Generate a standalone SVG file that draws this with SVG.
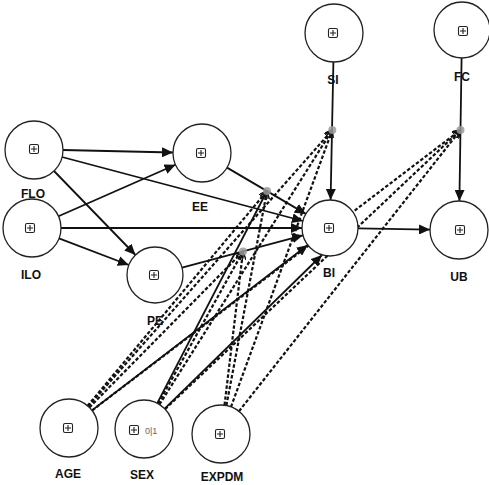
<svg xmlns="http://www.w3.org/2000/svg" width="489" height="485" viewBox="0 0 489 485">
<style>
.c{fill:#fff;stroke:#222;stroke-width:1.3}
.lbl{font-family:"Liberation Sans",Arial,sans-serif;font-weight:bold;font-size:12px;fill:#111;text-anchor:middle}
.ico{fill:none;stroke:#222;stroke-width:1.1}
.s{fill:none;stroke:#111;stroke-width:1.8}
.d{fill:none;stroke:#111;stroke-width:2.2;stroke-dasharray:3.5 2}
.dot{fill:#9a9a9a;opacity:0.85}
.tiny{font-family:"Liberation Sans",Arial,sans-serif;font-size:9px;fill:#666}
</style>
<defs>
<marker id="a" markerWidth="12" markerHeight="10" refX="11" refY="5" orient="auto" markerUnits="userSpaceOnUse">
<path d="M0,0 L11,5 L0,10 z" fill="#111"/>
</marker>
<marker id="m" markerWidth="9" markerHeight="8" refX="8" refY="4" orient="auto" markerUnits="userSpaceOnUse">
<path d="M0,0 L8,4 L0,8" fill="none" stroke="#111" stroke-width="1.5"/>
</marker>
<g id="plus">
<rect x="-4.5" y="-4.5" width="9" height="9" rx="1.5" class="ico"/>
<path d="M-3,0 H3 M0,-3 V3" class="ico"/>
</g>
</defs>
<g id="connectors">
<line class="s" x1="63" y1="150" x2="173" y2="152.5" marker-end="url(#a)"/>
<line class="s" x1="62" y1="157" x2="303" y2="221" marker-end="url(#a)"/>
<line class="s" x1="54" y1="171" x2="135.5" y2="255" marker-end="url(#a)"/>
<line class="s" x1="58.5" y1="216.3" x2="175.5" y2="164.7" marker-end="url(#a)"/>
<line class="s" x1="61" y1="228" x2="302" y2="228" marker-end="url(#a)"/>
<line class="s" x1="59" y1="238.4" x2="128.8" y2="265" marker-end="url(#a)"/>
<line class="s" x1="227" y1="167.6" x2="305.8" y2="213.9" marker-end="url(#a)"/>
<line class="s" x1="182" y1="267.7" x2="303" y2="235.3" marker-end="url(#a)"/>
<line class="s" x1="333.4" y1="62" x2="330.6" y2="200" marker-end="url(#a)"/>
<line class="s" x1="461.6" y1="58" x2="459.4" y2="201" marker-end="url(#a)"/>
<line class="s" x1="358" y1="228.4" x2="430" y2="229.6" marker-end="url(#a)"/>
<line class="s" x1="92" y1="410.4" x2="307.8" y2="245" marker-end="url(#a)"/>
<line class="s" x1="164.7" y1="408.7" x2="322" y2="255" marker-end="url(#a)"/>
<line class="d" x1="87.6" y1="405.8" x2="267" y2="191" marker-end="url(#m)"/>
<line class="d" x1="89.4" y1="407.4" x2="243" y2="251.5" marker-end="url(#m)"/>
<line class="d" x1="88.2" y1="406.3" x2="332.3" y2="130" marker-end="url(#m)"/>
<line class="d" x1="92.1" y1="410.4" x2="460.5" y2="130" marker-end="url(#m)"/>
<line class="s" x1="157.3" y1="403.2" x2="267" y2="191" marker-end="url(#m)"/>
<line class="d" x1="158.1" y1="403.7" x2="243" y2="251.5" marker-end="url(#m)"/>
<line class="d" x1="159.5" y1="404.5" x2="332.3" y2="130" marker-end="url(#m)"/>
<line class="d" x1="165.1" y1="409.1" x2="460.5" y2="130" marker-end="url(#m)"/>
<line class="d" x1="226.4" y1="405.5" x2="267" y2="191" marker-end="url(#m)"/>
<line class="d" x1="224.5" y1="405.2" x2="243" y2="251.5" marker-end="url(#m)"/>
<line class="d" x1="231" y1="406.8" x2="332.3" y2="130" marker-end="url(#m)"/>
<line class="d" x1="239" y1="411.2" x2="460.5" y2="130" marker-end="url(#m)"/>
<circle class="dot" cx="267" cy="191" r="4"/>
<circle class="dot" cx="243" cy="251.5" r="4"/>
<circle class="dot" cx="332.3" cy="130" r="4"/>
<circle class="dot" cx="460.5" cy="130" r="4"/>
</g>
<g id="FLO"><circle class="c" cx="34" cy="150" r="29"/><use href="#plus" x="34" y="149"/><text class="lbl" x="33" y="198">FLO</text></g>
<g id="ILO"><circle class="c" cx="32" cy="228" r="29"/><use href="#plus" x="30" y="228"/><text class="lbl" x="31" y="279">ILO</text></g>
<g id="EE"><circle class="c" cx="202" cy="153" r="29"/><use href="#plus" x="201" y="153"/><text class="lbl" x="200" y="211">EE</text></g>
<g id="PE"><circle class="c" cx="155" cy="275" r="28"/><use href="#plus" x="154" y="275"/><text class="lbl" x="155" y="325">PE</text></g>
<g id="SI"><circle class="c" cx="334" cy="33" r="29"/><use href="#plus" x="333" y="33"/><text class="lbl" x="333" y="84">SI</text></g>
<g id="FC"><circle class="c" cx="462" cy="30" r="28"/><use href="#plus" x="463" y="31"/><text class="lbl" x="462" y="81">FC</text></g>
<g id="BI"><circle class="c" cx="330" cy="228" r="28"/><use href="#plus" x="329" y="228"/><text class="lbl" x="329" y="277">BI</text></g>
<g id="UB"><circle class="c" cx="459" cy="230" r="29"/><use href="#plus" x="460" y="230"/><text class="lbl" x="459" y="281">UB</text></g>
<g id="AGE"><circle class="c" cx="69" cy="428" r="29"/><use href="#plus" x="68" y="428"/><text class="lbl" x="68" y="478">AGE</text></g>
<g id="SEX"><circle class="c" cx="144" cy="429" r="29"/><use href="#plus" x="134" y="430"/><text class="tiny" x="145" y="433.5">0|1</text><text class="lbl" x="142" y="479">SEX</text></g>
<g id="EXPDM"><circle class="c" cx="221" cy="434" r="29"/><use href="#plus" x="220" y="434"/><text class="lbl" x="222" y="481">EXPDM</text></g>
</svg>
